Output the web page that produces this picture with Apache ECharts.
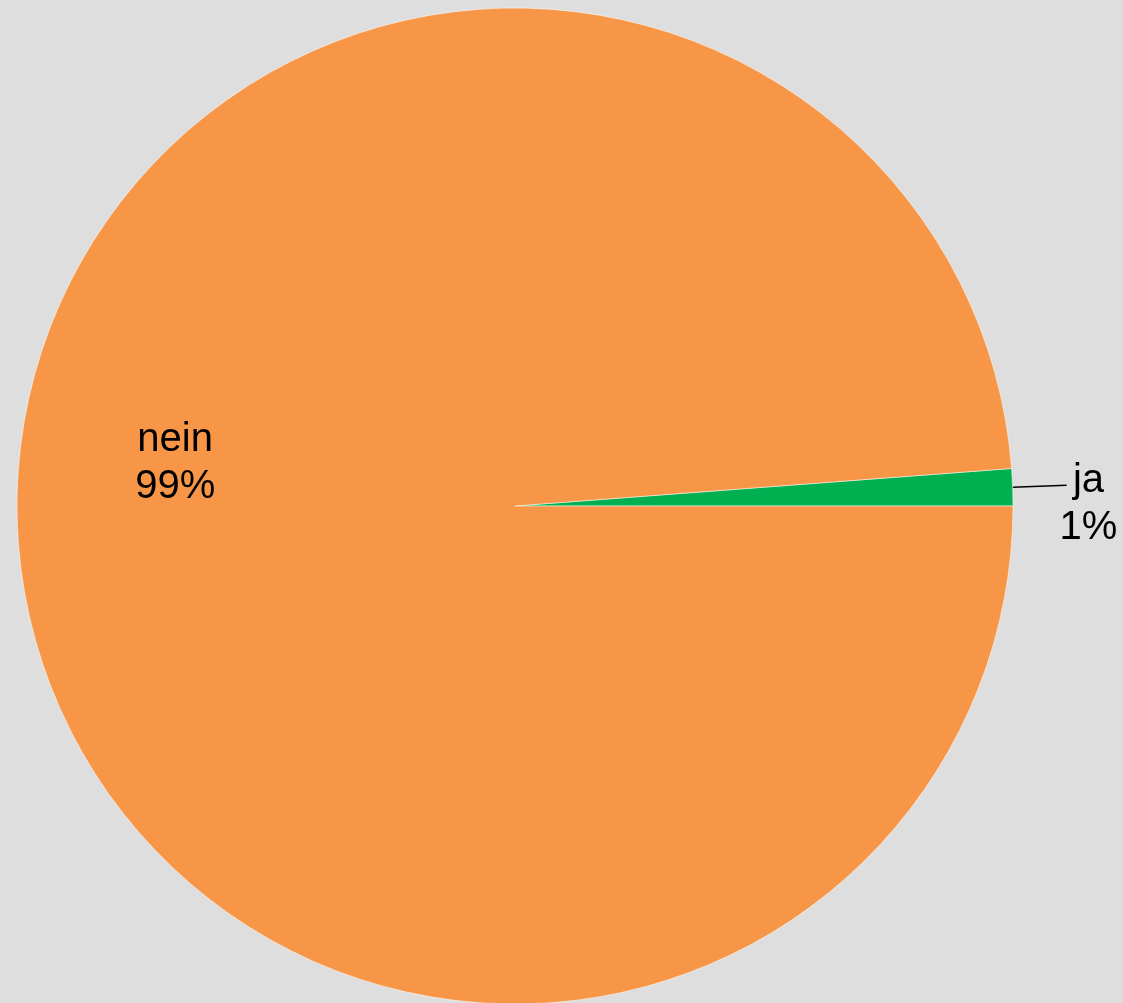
<!DOCTYPE html>
<html>
<head>
<meta charset="utf-8">
<script src="https://cdn.jsdelivr.net/npm/echarts@6/dist/echarts.min.js"></script>
<style>
html,body{margin:0;padding:0;background:#dedede;}
#c{width:1123px;height:1003px;}
</style>
</head>
<body>
<div id="c"></div>
<script>
const categories = ['ja', 'nein'];
const values = [1.2, 98.8];
const colors = ['#00b050', '#f79646'];

const chart = echarts.init(document.getElementById('c'), null, {renderer: 'canvas'});
const data = categories.map((name, i) => {
  const item = { name: name, value: values[i], itemStyle: { color: colors[i] } };
  if (name === 'nein') {
    item.label = { position: 'inside', offset: [-88, -52] };
  } else {
    item.label = { position: 'outside', offset: [-7, 19] };
    item.labelLine = { show: true, length: 54, length2: 0, lineStyle: { color: '#000', width: 1.5 } };
  }
  return item;
});

chart.setOption({
  backgroundColor: '#dedede',
  animation: false,
  series: [{
    type: 'pie',
    center: [515, 506],
    radius: [0, 498],
    startAngle: 0,
    clockwise: false,
    percentPrecision: 0,
    avoidLabelOverlap: false,
    itemStyle: { borderColor: '#ffffff', borderWidth: 0.5 },
    label: {
      show: true,
      formatter: function (p) { return '{a|' + p.name + '}\n{a|' + Math.round(p.percent) + '%}'; },
      color: '#000',
      fontFamily: 'Liberation Sans, Arial, sans-serif',
      fontSize: 40,
      lineHeight: 47,
      distanceToLabelLine: 0,
      rich: { a: { align: 'center', fontSize: 40, lineHeight: 47, color: '#000', fontFamily: 'Liberation Sans, Arial, sans-serif' } }
    },
    labelLine: { show: false },
    data: data
  }]
});
</script>
</body>
</html>
